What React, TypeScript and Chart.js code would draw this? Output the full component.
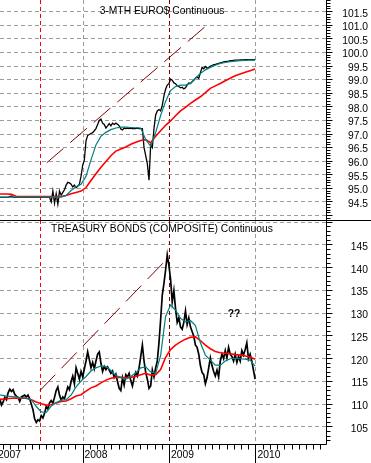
import React, { useEffect, useRef } from 'react';
import { Chart, registerables } from 'chart.js';

Chart.register(...registerables);

// ---------- data (weekly closes from first week of 2007; moving averages every 3 weeks) ----------
const YEAR_LABELS = ['2007', '2008', '2009', '2010'];
const WEEKS_PER_YEAR = 52.18;
const MA_STEP_WEEKS = 3;

const EURO_TITLE = '3-MTH EURO$ Continuous';
const BOND_TITLE = 'TREASURY BONDS (COMPOSITE) Continuous';
const BOND_NOTE = '??';
const BOND_NOTE_AT = [143.3, 129.8]; // [week, price]

const EURO_TICKS = [94.5, 95.0, 95.5, 96.0, 96.5, 97.0, 97.5, 98.0, 98.5, 99.0, 99.5, 100.0, 100.5, 101.0, 101.5];
const BOND_TICKS = [105, 110, 115, 120, 125, 130, 135, 140, 145];

const EURO_CLOSE = [
  94.67, 94.67, 94.67, 94.67, 94.67, 94.67, 94.67, 94.67, 94.70, 94.72,
  94.68, 94.67, 94.67, 94.67, 94.67, 94.67, 94.67, 94.67, 94.67, 94.67,
  94.67, 94.67, 94.67, 94.67, 94.67, 94.67, 94.67, 94.67, 94.67, 94.67,
  94.67, 94.67, 94.67, 94.50, 94.90, 94.45, 94.80, 94.42, 94.90, 94.75,
  94.85, 94.95, 95.12, 95.22, 95.20, 95.15, 95.05, 95.12, 95.02, 95.08,
  95.15, 95.45, 95.85, 96.05, 96.75, 96.95, 96.98, 97.02, 97.05, 97.12,
  97.20, 97.35, 97.50, 97.55, 97.40, 97.35, 97.22, 97.30, 97.38, 97.30,
  97.40, 97.35, 97.40, 97.36, 97.30, 97.18, 97.15, 97.22, 97.20, 97.22,
  97.20, 97.22, 97.20, 97.21, 97.20, 97.22, 97.20, 97.20, 97.20, 96.50,
  96.20, 95.90, 95.30, 96.60, 96.50, 97.20, 97.70, 97.85, 97.90, 97.85,
  98.05, 98.40, 98.65, 98.80, 98.85, 99.02, 98.98, 98.88, 98.85, 98.78,
  98.75, 98.70, 98.72, 98.66, 98.70, 98.80, 98.88, 98.86, 98.92, 98.98,
  99.05, 99.10, 99.05, 99.25, 99.45, 99.40, 99.48, 99.42, 99.45, 99.50,
  99.52, 99.55, 99.56, 99.58, 99.60, 99.62, 99.63, 99.65, 99.66, 99.67,
  99.68, 99.70, 99.70, 99.71, 99.72, 99.72, 99.72, 99.73, 99.73, 99.73,
  99.74, 99.74, 99.74, 99.74, 99.74, 99.74, 99.74,
];

const EURO_MA_SHORT = [
  94.68, 94.68, 94.68, 94.68, 94.68, 94.68, 94.68, 94.68, 94.68, 94.68,
  94.68, 94.68, 94.68, 94.68, 94.74, 94.92, 95.06, 95.15, 95.45, 96.05,
  96.60, 96.92, 97.06, 97.16, 97.22, 97.25, 97.25, 97.24, 97.23, 97.22,
  96.80, 96.55, 97.05, 97.68, 98.20, 98.60, 98.75, 98.80, 98.80, 98.86,
  99.05, 99.23, 99.36, 99.45, 99.53, 99.60, 99.63, 99.66, 99.68, 99.70,
  99.71, 99.72, 99.72,
];

const EURO_MA_LONG = [
  94.79, 94.79, 94.79, 94.78, 94.70, 94.70, 94.70, 94.70, 94.70, 94.70,
  94.70, 94.70, 94.70, 94.70, 94.74, 94.80, 94.85, 94.90, 95.03, 95.29,
  95.54, 95.78, 95.99, 96.20, 96.37, 96.45, 96.52, 96.62, 96.70, 96.76,
  96.79, 96.68, 96.92, 97.12, 97.32, 97.48, 97.67, 97.85, 97.98, 98.13,
  98.25, 98.37, 98.52, 98.68, 98.77, 98.86, 98.96, 99.05, 99.14, 99.21,
  99.27, 99.33, 99.39,
];

const BOND_CLOSE = [
  111.5, 111.8, 111.2, 109.8, 110.5, 111.5, 111.0, 112.5, 113.3, 112.8,
  113.2, 112.2, 111.8, 111.5, 110.6, 111.6, 111.8, 112.0, 111.6, 112.0,
  111.2, 110.0, 108.8, 106.8, 106.0, 106.6, 106.3, 107.5, 107.0, 108.0,
  109.5, 109.0, 110.3, 110.8, 110.2, 111.5, 113.0, 113.8, 112.0, 110.9,
  111.6, 111.2, 112.5, 113.8, 113.2, 115.0, 116.2, 114.5, 118.0, 116.8,
  115.5, 117.2, 116.0, 117.8, 119.5, 121.5, 119.8, 118.0, 119.2, 117.8,
  119.5, 121.0, 121.5, 119.0, 117.2, 118.3, 117.6, 118.2, 117.5, 116.8,
  117.3, 115.9, 116.6, 115.0, 113.5, 113.0, 115.8, 114.2, 116.5, 116.0,
  116.8, 115.2, 114.0, 115.8, 117.0, 116.2, 118.0, 120.5, 123.0, 119.5,
  117.0, 115.5, 113.5, 114.0, 117.5, 116.0, 118.0, 119.5, 123.5, 128.5,
  134.0, 136.5, 139.5, 142.8, 140.5, 137.5, 132.5, 135.0, 131.0, 128.0,
  129.0, 127.0, 126.5, 128.0, 130.5, 127.5, 129.0, 127.0, 126.0, 125.0,
  123.0, 122.5, 121.0, 118.5, 117.0, 116.5, 114.5, 115.8, 118.0, 120.2,
  118.5, 117.2, 116.2, 117.5, 116.0, 119.5, 121.0, 120.0, 121.8, 120.2,
  122.5, 121.0, 120.5, 119.5, 121.0, 119.2, 120.5, 119.5, 121.8, 120.8,
  122.0, 123.5, 120.0, 121.0, 119.5, 117.5, 115.5,
];

const BOND_MA_SHORT = [
  112.1, 112.0, 111.8, 111.7, 111.6, 111.4, 111.3, 111.0, 109.5, 108.3,
  108.2, 109.6, 110.3, 110.9, 111.0, 112.0, 113.8, 115.1, 116.1, 117.3,
  118.0, 118.4, 118.3, 117.4, 116.3, 115.9, 115.5, 116.1, 116.9, 118.0,
  118.2, 117.1, 116.8, 120.7, 129.3, 131.8, 130.7, 128.9, 128.1, 128.4,
  127.3, 123.5, 120.8, 119.7, 118.6, 118.6, 119.5, 120.0, 120.1, 120.0,
  119.9, 119.7, 118.4,
];

const BOND_MA_LONG = [
  111.0, 111.1, 111.2, 111.3, 111.35, 111.4, 111.3, 111.0, 110.5, 110.1,
  109.8, 109.9, 110.3, 110.6, 110.7, 111.2, 111.8, 112.1, 112.9, 113.6,
  114.0, 114.7, 115.3, 115.7, 115.9, 115.9, 115.8, 115.9, 116.1, 116.5,
  116.8, 116.4, 116.5, 117.6, 120.3, 122.0, 123.0, 123.7, 124.3, 124.7,
  124.8, 124.0, 123.0, 122.2, 121.6, 121.3, 121.2, 121.1, 120.9, 120.8,
  120.6, 120.4, 119.9,
];

// trend lines: [week, price] end points
const EURO_TREND = [[30.3, 95.94], [127.0, 101.01]];
const BOND_TREND = [[26.2, 113.0], [100.4, 141.0]];

// event markers (weeks since start of 2007)
const EVENT_WEEKS = [26.4, 104.36];

// ---------- styles / layout ----------
const W = 371;
const AXIS_W = 44.5;
const X_MIN = 2.11;
const X_MAX = 199.07;
const FONT = '10.3px "Liberation Sans", Arial, sans-serif';
const GRID = '#9c9c9c';
const EVENT_COLORS = ['#ff0000', '#800000'];
const TEAL = '#008080';
const RED = '#ff0000';
const MAROON = '#800000';
const DASH_ON = 4;
const DASH_PERIOD = 7;

interface Panel {
  title: string;
  titleY: number;
  close: number[];
  maShort: number[];
  maLong: number[];
  trend: number[][];
  yMin: number;
  yMax: number;
  gridStep: number;
  minorStep: number;
  ticks: number[];
  decimals: number;
  height: number;
  bottomPad: number;
  xAxis: boolean;
  closeWidth: number;
  note?: { text: string; at: number[] };
}

const PANELS: { panel: Panel; top: number }[] = [
  {
    top: 0,
    panel: {
      title: EURO_TITLE, titleY: 11,
      close: EURO_CLOSE, maShort: EURO_MA_SHORT, maLong: EURO_MA_LONG, trend: EURO_TREND,
      yMin: 93.836, yMax: 101.93, gridStep: 0.5, minorStep: 0.1, ticks: EURO_TICKS, decimals: 1,
      height: 220, bottomPad: 0, xAxis: false, closeWidth: 1.3,
    },
  },
  {
    top: 220,
    panel: {
      title: BOND_TITLE, titleY: 8.7,
      close: BOND_CLOSE, maShort: BOND_MA_SHORT, maLong: BOND_MA_LONG, trend: BOND_TREND,
      yMin: 101.15, yMax: 150.49, gridStep: 5, minorStep: 1, ticks: BOND_TICKS, decimals: 0,
      height: 243, bottomPad: 18.5, xAxis: true, closeWidth: 1.7,
      note: { text: BOND_NOTE, at: BOND_NOTE_AT },
    },
  },
];

function vDash(ctx: CanvasRenderingContext2D, x: number, y1: number, y2: number) {
  const xi = Math.floor(x);
  for (let y = y1; y < y2; y += DASH_PERIOD) {
    ctx.fillRect(xi, y, 1, Math.min(DASH_ON, y2 - y));
  }
}

function decorPlugin(p: Panel) {
  return {
    id: 'panelDecor',
    beforeDatasetsDraw(chart: any) {
      const { ctx, chartArea: a, scales } = chart;
      const xs = scales.x;
      ctx.save();
      ctx.fillStyle = GRID;
      YEAR_LABELS.forEach((_, i) => {
        const x = xs.getPixelForValue(i * WEEKS_PER_YEAR);
        if (x < a.left || x > a.right) return;
        vDash(ctx, x, Math.floor(a.top), Math.floor(a.bottom));
      });
      EVENT_WEEKS.forEach((wk, i) => {
        ctx.fillStyle = EVENT_COLORS[i];
        vDash(ctx, xs.getPixelForValue(wk), Math.floor(a.top), Math.floor(a.bottom));
      });
      ctx.restore();
    },
    afterDraw(chart: any) {
      const { ctx, chartArea: a, scales } = chart;
      const xs = scales.x;
      const ys = scales.y;
      ctx.save();
      ctx.setLineDash([]);
      ctx.strokeStyle = '#000';
      ctx.fillStyle = '#000';
      ctx.lineWidth = 1;
      const ax = Math.floor(a.right) + 0.5;
      ctx.beginPath();
      ctx.moveTo(ax, a.top);
      ctx.lineTo(ax, a.bottom);
      ctx.stroke();
      const m0 = Math.ceil(p.yMin / p.minorStep - 1e-9);
      for (let k = m0; k * p.minorStep <= p.yMax + 1e-9; k++) {
        const v = k * p.minorStep;
        const r = v / p.gridStep;
        const major = Math.abs(r - Math.round(r)) < 1e-6;
        const y = Math.floor(ys.getPixelForValue(v)) + 0.5;
        ctx.beginPath();
        ctx.moveTo(ax, y);
        ctx.lineTo(ax + (major ? 6 : 4), y);
        ctx.stroke();
      }
      ctx.font = FONT;
      ctx.textAlign = 'right';
      ctx.textBaseline = 'middle';
      p.ticks.forEach((v) => {
        ctx.fillText(v.toFixed(p.decimals), 368, ys.getPixelForValue(v) + 2);
      });
      ctx.textAlign = 'center';
      ctx.fillText(p.title, 162, p.titleY);
      if (p.note) {
        ctx.font = 'bold ' + FONT;
        ctx.fillText(p.note.text, xs.getPixelForValue(p.note.at[0]), ys.getPixelForValue(p.note.at[1]));
      }
      if (p.xAxis) {
        ctx.beginPath();
        ctx.moveTo(0, 0.5);
        ctx.lineTo(W, 0.5);
        ctx.stroke();
        const by = Math.floor(a.bottom) + 0.5;
        ctx.beginPath();
        ctx.moveTo(a.left, by);
        ctx.lineTo(ax, by);
        ctx.stroke();
        const monthW = WEEKS_PER_YEAR / 12;
        for (let m = 0; m < 12 * YEAR_LABELS.length; m++) {
          const x = Math.floor(xs.getPixelForValue(m * monthW)) + 0.5;
          if (x < a.left - 1 || x > ax) continue;
          const major = m % 12 === 0;
          ctx.beginPath();
          ctx.moveTo(x, by);
          ctx.lineTo(x, major ? chart.height : by + 5);
          ctx.stroke();
        }
        ctx.font = FONT;
        ctx.textAlign = 'left';
        ctx.textBaseline = 'middle';
        YEAR_LABELS.forEach((lab, i) => {
          const x = xs.getPixelForValue(i * WEEKS_PER_YEAR);
          ctx.fillText(lab, x + 1.5, by + 11);
        });
      }
      ctx.restore();
    },
  };
}

function PanelChart({ panel, top }: { panel: Panel; top: number }) {
  const ref = useRef<HTMLCanvasElement>(null);
  useEffect(() => {
    const canvas = ref.current;
    if (!canvas) return;
    const closeData = panel.close.map((v, i) => ({ x: i, y: v }));
    const shortData = panel.maShort.map((v, i) => ({ x: i * MA_STEP_WEEKS, y: v }));
    const longData = panel.maLong.map((v, i) => ({ x: i * MA_STEP_WEEKS, y: v }));
    const trendData = panel.trend.map(([x, y]) => ({ x, y }));
    const chart = new Chart(canvas, {
      type: 'line',
      data: {
        datasets: [
          { data: shortData, borderColor: TEAL, borderWidth: 1.2, pointRadius: 0, tension: 0 },
          { data: longData, borderColor: RED, borderWidth: 1.6, pointRadius: 0, tension: 0 },
          { data: closeData, borderColor: '#000', borderWidth: panel.closeWidth, pointRadius: 0, tension: 0 },
          { data: trendData, borderColor: MAROON, borderWidth: 1, borderDash: [22, 9], pointRadius: 0, tension: 0 },
        ],
      },
      options: {
        responsive: false,
        maintainAspectRatio: false,
        animation: false,
        events: [],
        layout: { padding: { left: 0, right: 0, top: 0, bottom: panel.bottomPad } },
        plugins: { legend: { display: false }, tooltip: { enabled: false }, title: { display: false } },
        scales: {
          x: { type: 'linear', display: false, min: X_MIN, max: X_MAX },
          y: {
            type: 'linear',
            position: 'right',
            min: panel.yMin,
            max: panel.yMax,
            ticks: { display: false, stepSize: panel.gridStep, includeBounds: false },
            grid: { color: GRID, lineWidth: 1, drawTicks: false },
            border: { display: false, dash: [DASH_ON, DASH_PERIOD - DASH_ON] },
            afterFit: (s: any) => {
              s.width = AXIS_W;
            },
          },
        },
      },
      plugins: [decorPlugin(panel)],
    } as any);
    return () => chart.destroy();
  }, [panel]);
  return (
    <canvas
      ref={ref}
      width={W}
      height={panel.height}
      style={{ position: 'absolute', left: 0, top, width: W, height: panel.height, display: 'block' }}
    />
  );
}

export default function App() {
  return (
    <div style={{ position: 'absolute', left: 0, top: 0, width: W, height: 463, background: '#fff', overflow: 'hidden' }}>
      {PANELS.map(({ panel, top }, i) => (
        <PanelChart key={i} panel={panel} top={top} />
      ))}
    </div>
  );
}
